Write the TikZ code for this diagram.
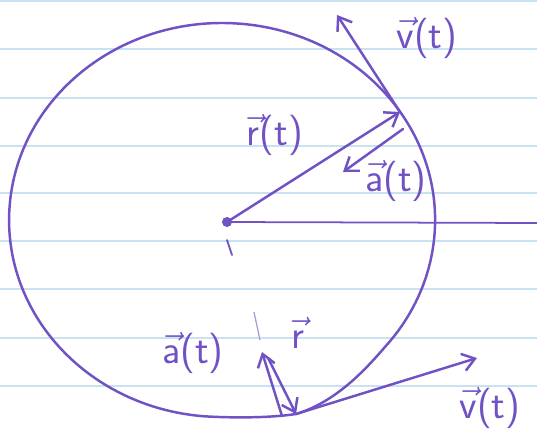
\documentclass[tikz,border=0pt]{standalone}
\definecolor{InkPurple}{RGB}{112,82,196}
\definecolor{RuleBlue}{RGB}{200,226,242}
\usetikzlibrary{arrows.meta}
\newcommand{\arrowed}[1]{\ensuremath{\vec{\mbox{#1}}}}

\begin{document}
\begin{tikzpicture}[
    x=0.02cm, y=-0.02cm,
    ink/.style={draw=InkPurple, line width=1.4pt, line cap=round, line join=round},
    vecarrow/.style={ink, -{Straight Barb[length=7pt, width=10pt]}},
    lbl/.style={text=InkPurple, inner sep=0pt, font=\fontsize{23}{26}\sffamily\selectfont}
]
    \useasboundingbox (0,0) rectangle (537,433);
    \fill[white] (0,0) rectangle (537,433);
    \foreach \y in {1,49,98,146,193,241,289,338,386}
        \draw[RuleBlue, line width=0.7pt] (0,\y) -- (537,\y);
    \coordinate (C) at (222,220);
    \coordinate (O) at (227,222);
    \coordinate (E) at (537,223);
    \coordinate (P) at (400,112);
    \coordinate (Ptop) at (337,15);
    \coordinate (Pacc0) at (403,129);
    \coordinate (Pacc) at (343,172);
    \coordinate (Q) at (296,414);
    \coordinate (Qvel) at (477,358);
    \coordinate (Qup0) at (282,416);
    \coordinate (Qup) at (262,352);
    \coordinate (Qdown0) at (268,358);
    \coordinate (tickA) at (227,240);
    \coordinate (tickB) at (232,255);
    \coordinate (tickC) at (254,312);
    \coordinate (tickD) at (260,340);
    \draw[ink] (C) ++(95:212 and 197) coordinate (R0)
        arc [start angle=95, end angle=400, x radius=213, y radius=197]
        .. controls (366,369) and (336,402) .. (Q)
        .. controls (270,418) and (232,418) .. (R0);
    \fill[InkPurple] (O) circle [radius=5];
    \draw[ink, line width=1pt] (O) -- (E);
    \draw[ink, line width=1pt] (tickA) -- (tickB);
    \draw[InkPurple!60, line width=0.7pt] (tickC) -- (tickD);
    \draw[vecarrow] (O) -- (P);
    \draw[vecarrow] (P) -- (Ptop);
    \draw[vecarrow] (Pacc0) -- (Pacc);
    \draw[vecarrow] (Q) -- (Qvel);
    \draw[vecarrow] (Qup0) -- (Qup);
    \draw[vecarrow] (Qdown0) -- (Q);
    \node[lbl] (vtop) at (427,38) {\arrowed{v}(t)};
    \node[lbl] (rtop) at (275,135) {\arrowed{r}(t)};
    \node[lbl] (atop) at (396,181) {\arrowed{a}(t)};
    \node[lbl] (rbot) at (298,333) {\arrowed{r}};
    \node[lbl] (abot) at (193,353) {\arrowed{a}(t)};
    \node[lbl] (vbot) at (490,408) {\arrowed{v}(t)};
\end{tikzpicture}
\end{document}
